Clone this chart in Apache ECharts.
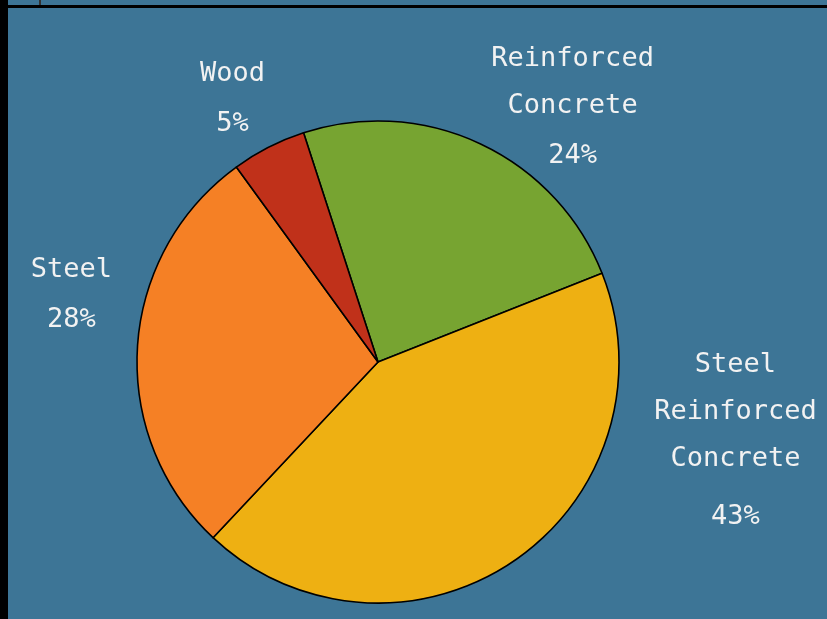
<!DOCTYPE html>
<html>
<head>
<meta charset="utf-8">
<script src="https://cdn.jsdelivr.net/npm/echarts@6/dist/echarts.min.js"></script>
<style>
  html, body { margin: 0; padding: 0; background: #000; }
  #pieChart { width: 827px; height: 619px; }
</style>
</head>
<body>
<div id="pieChart"></div>
<script>
const materials = ['Reinforced Concrete', 'Steel Reinforced Concrete', 'Steel', 'Wood']
const shares = [24, 43, 28, 5]
const sliceColors = ['#77a431', '#eeb012', '#f58025', '#c0311a']
// label offsets from the default outside anchor
const labelShift = [[87, -35], [217, -88], [-61, -50], [-31, -47]]

const chart = echarts.init(document.getElementById('pieChart'))

const option = {
  backgroundColor: '#3d7596',
  animation: false,
  graphic: [
    { type: 'rect', left: 0, top: 0, shape: { width: 8, height: 619 }, style: { fill: '#000' } },
    { type: 'rect', left: 0, top: 5, shape: { width: 827, height: 3 }, style: { fill: '#000' } },
    { type: 'rect', left: 39, top: 0, shape: { width: 2, height: 5 }, style: { fill: '#333' } }
  ],
  series: [
    {
      type: 'pie',
      center: [378, 362],
      radius: 241,
      startAngle: 108,
      clockwise: true,
      data: materials.map(function (name, i) {
        return { name: name, value: shares[i], itemStyle: { color: sliceColors[i] } }
      }),
      itemStyle: {
        borderColor: '#000',
        borderWidth: 1.6
      },
      emphasis: { disabled: true },
      labelLine: { show: false, length: 0, length2: 0 },
      label: {
        show: true,
        position: 'outside',
        color: '#f2f2f2',
        fontFamily: 'DejaVu Sans Mono',
        fontSize: 27,
        formatter: function (p) {
          const words = p.name.split(' ')
          let lines
          if (p.name === 'Reinforced Concrete') {
            lines = ['Reinforced', 'Concrete']
          } else {
            lines = words
          }
          const pct = words.length > 2 ? '{q|' + p.value + '%}' : '{p|' + p.value + '%}'
          return lines.map(function (w) { return '{n|' + w + '}' }).join('\n') + '\n' + pct
        },
        rich: {
          n: { fontFamily: 'DejaVu Sans Mono', fontSize: 27, color: '#f2f2f2', lineHeight: 47, align: 'center' },
          p: { fontFamily: 'DejaVu Sans Mono', fontSize: 27, color: '#f2f2f2', lineHeight: 53, align: 'center' },
          q: { fontFamily: 'DejaVu Sans Mono', fontSize: 27, color: '#f2f2f2', lineHeight: 69, align: 'center' }
        }
      },
      labelLayout: function (params) {
        const s = labelShift[params.dataIndex]
        return { dx: s[0], dy: s[1], align: 'center', verticalAlign: 'middle' }
      }
    }
  ]
}

chart.setOption(option)
</script>
</body>
</html>
